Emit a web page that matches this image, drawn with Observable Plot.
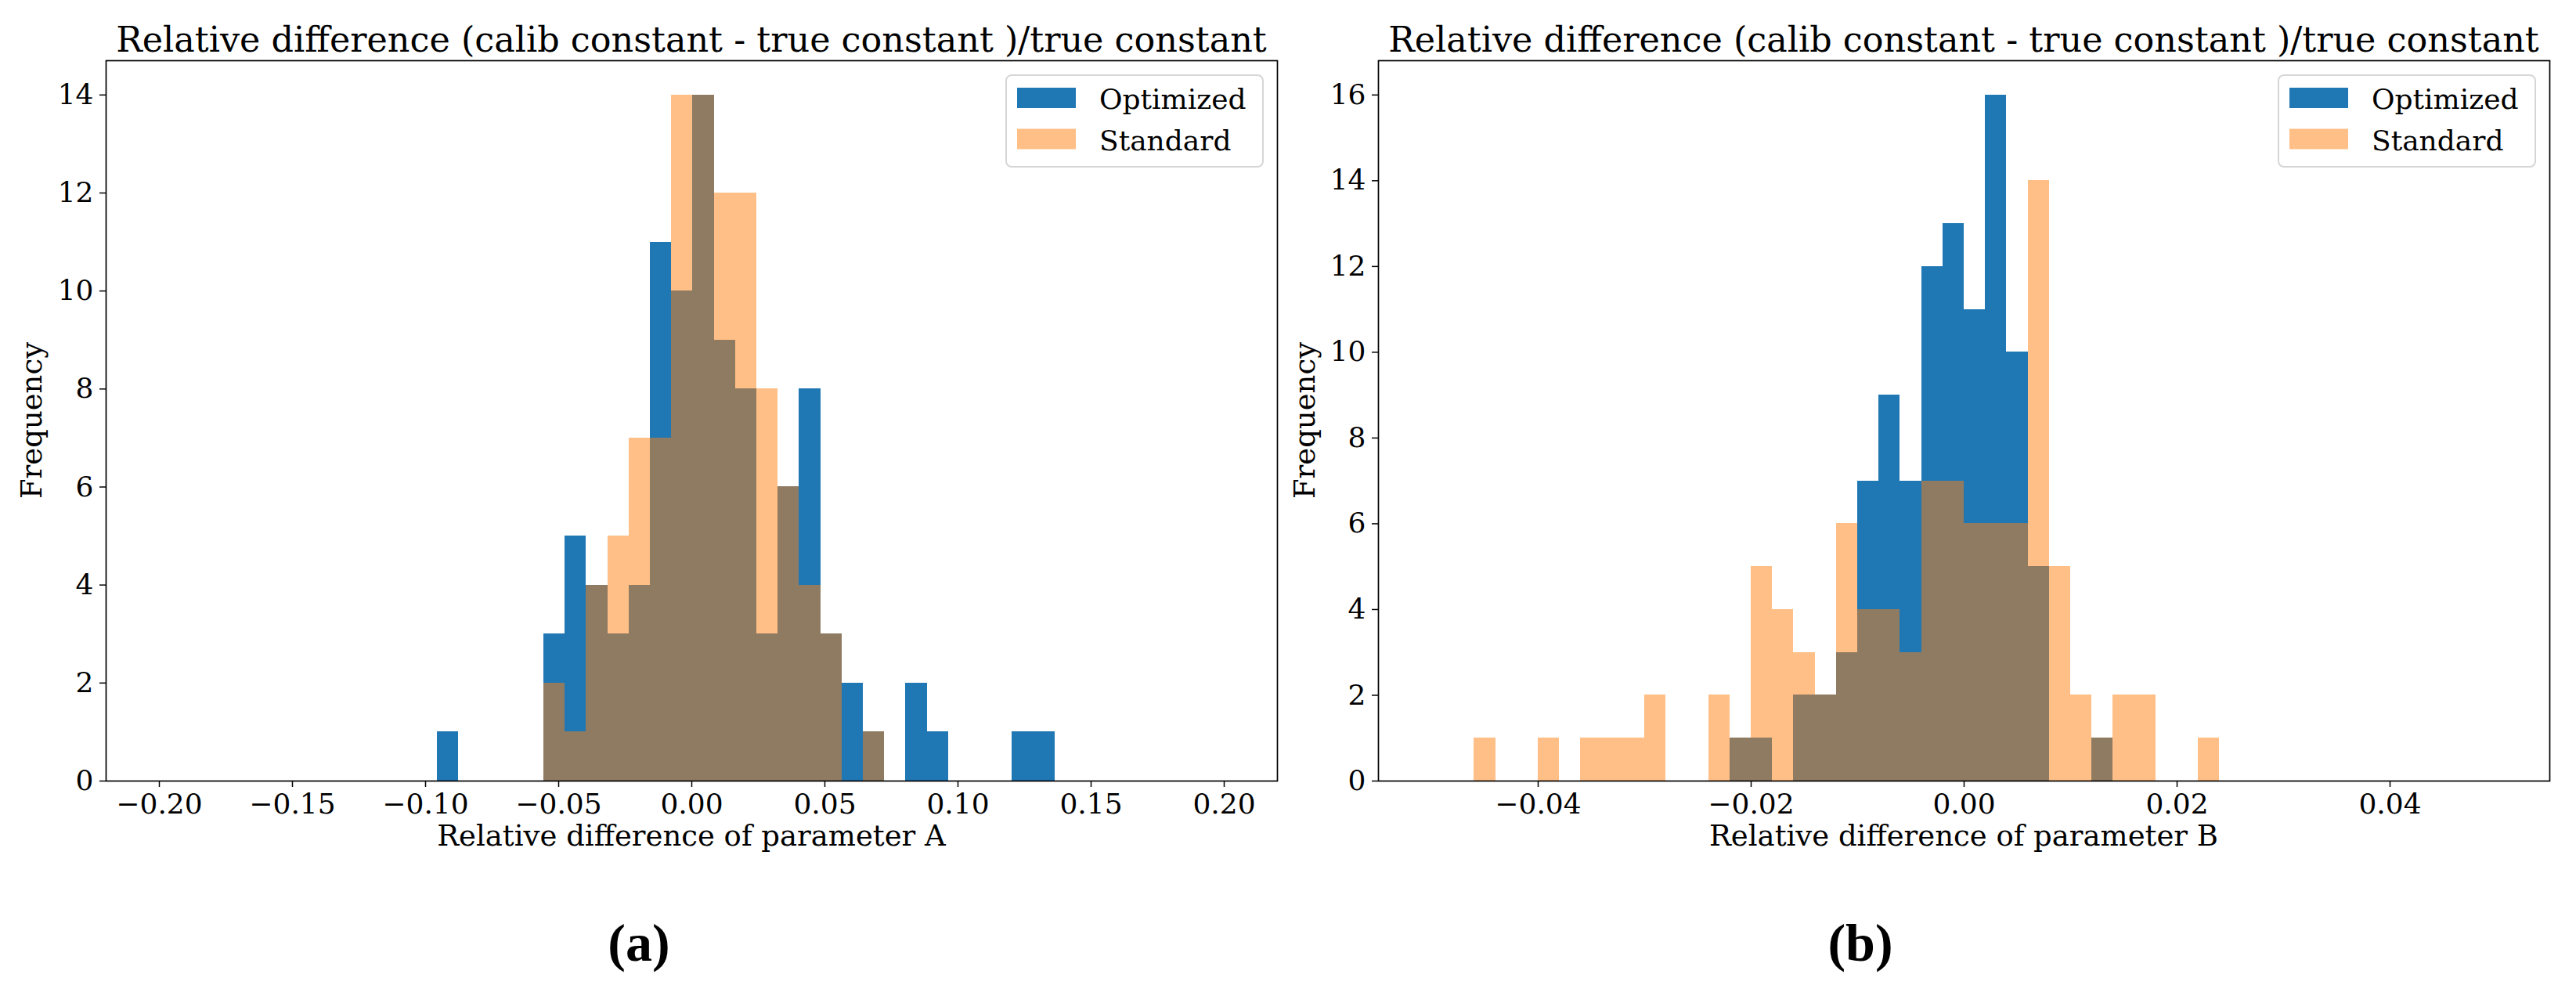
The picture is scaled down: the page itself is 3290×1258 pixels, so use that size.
<!DOCTYPE html>
<html><head><meta charset="utf-8">
<script src="https://cdn.jsdelivr.net/npm/d3@7"></script>
<script src="https://cdn.jsdelivr.net/npm/@observablehq/plot@0.6"></script>
<style>
html,body{margin:0;padding:0;background:#fff;}
#root{position:relative;width:3290px;height:1258px;overflow:hidden;font-family:"DejaVu Serif";}
#root > svg{position:absolute;}
</style></head><body><div id="root"></div>
<script>
// ---------- data ----------
const seriesNames = ["Optimized", "Standard"];
const seriesColors = ["#1f77b4", "#ff7f0e"];
const titleText = "Relative difference (calib constant - true constant )/true constant";
const xLabels = ["Relative difference of parameter A", "Relative difference of parameter B"];
const yLabel = "Frequency";
const panelLabels = ["(a)", "(b)"];

// parameter A: shared bin edges (29 bins)
const edgesA = [-0.0956, -0.0876, -0.0796, -0.0716, -0.0636, -0.0556, -0.0476, -0.0396, -0.0316, -0.0236,
  -0.0156, -0.0076, 0.0004, 0.0084, 0.0164, 0.0244, 0.0324, 0.0404, 0.0484, 0.0564,
  0.0644, 0.0724, 0.0804, 0.0884, 0.0964, 0.1044, 0.1124, 0.1204, 0.1284, 0.1364];
const optimizedA = [1, 0, 0, 0, 0, 3, 5, 4, 3, 4, 11, 10, 14, 9, 8, 3, 6, 8, 3, 2, 1, 0, 2, 1, 0, 0, 0, 1, 1];
const standardA  = [0, 0, 0, 0, 0, 2, 1, 4, 5, 7, 7, 14, 14, 12, 12, 8, 6, 4, 3, 0, 1, 0, 0, 0, 0, 0, 0, 0, 0];

// parameter B: shared bin edges (35 bins)
const edgesB = [-0.046, -0.044, -0.042, -0.040, -0.038, -0.036, -0.034, -0.032, -0.030, -0.028,
  -0.026, -0.024, -0.022, -0.020, -0.018, -0.016, -0.014, -0.012, -0.010, -0.008,
  -0.006, -0.004, -0.002, 0.000, 0.002, 0.004, 0.006, 0.008, 0.010, 0.012,
  0.014, 0.016, 0.018, 0.020, 0.022, 0.024];
const optimizedB = [0, 0, 0, 0, 0, 0, 0, 0, 0, 0, 0, 0, 1, 1, 0, 2, 2, 3, 7, 9, 7, 12, 13, 11, 16, 10, 5, 0, 0, 1, 0, 0, 0, 0, 0];
const standardB  = [1, 0, 0, 1, 0, 1, 1, 1, 2, 0, 0, 2, 1, 5, 4, 3, 2, 6, 4, 4, 3, 7, 7, 6, 6, 6, 14, 5, 2, 1, 2, 2, 0, 0, 1];

const xTicksA = [-0.20, -0.15, -0.10, -0.05, 0.00, 0.05, 0.10, 0.15, 0.20];
const xTicksB = [-0.04, -0.02, 0.00, 0.02, 0.04];
const yTicksA = [0, 2, 4, 6, 8, 10, 12, 14];
const yTicksB = [0, 2, 4, 6, 8, 10, 12, 14, 16];
const xDomainA = [-0.22, 0.22], yDomainA = [0, 14.7];
const xDomainB = [-0.055, 0.055], yDomainB = [0, 16.8];

// ---------- drawing ----------
const root = document.getElementById("root");
const toBins = (edges, counts) => counts.map((c, i) => ({x1: edges[i], x2: edges[i + 1], count: c}));
const FONT = "DejaVu Serif";
const W = 1650, H = 1050, MT = 77, FRAME_BOTTOM = 997;

function panel(o) {
  const svg = Plot.plot({
    width: W, height: H,
    marginLeft: o.ml, marginRight: o.mr, marginTop: MT, marginBottom: H - FRAME_BOTTOM,
    style: {fontFamily: FONT, fontSize: "36px", color: "#000", background: "transparent", overflow: "visible"},
    x: {domain: o.xDomain},
    y: {domain: o.yDomain},
    marks: [
      Plot.rectY(toBins(o.edges, o.opt).filter(d => d.count > 0),
        {x1: "x1", x2: "x2", y: "count", fill: seriesColors[0], shapeRendering: "crispEdges"}),
      Plot.rectY(toBins(o.edges, o.std).filter(d => d.count > 0),
        {x1: "x1", x2: "x2", y: "count", fill: seriesColors[1], fillOpacity: 0.5, shapeRendering: "crispEdges"}),
      Plot.frame({stroke: "#000", strokeWidth: 1.7}),
      Plot.axisX({ticks: o.xTicks, tickFormat: d3.format(".2f"), tickSize: 8, tickPadding: 8, strokeWidth: 1.5, label: null}),
      Plot.axisY({ticks: o.yTicks, tickFormat: d3.format("d"), tickSize: 8, tickPadding: 8, strokeWidth: 1.5, label: null})
    ]
  });
  svg.style.left = o.left + "px";
  svg.style.top = "0px";
  root.append(svg);
}

panel({edges: edgesA, opt: optimizedA, std: standardA, xDomain: xDomainA, yDomain: yDomainA,
  xTicks: xTicksA, yTicks: yTicksA, left: 0, ml: 135, mr: 19});
panel({edges: edgesB, opt: optimizedB, std: standardB, xDomain: xDomainB, yDomain: yDomainB,
  xTicks: xTicksB, yTicks: yTicksB, left: 1640, ml: 120, mr: 34});

// ---------- text overlay: titles, axis labels, legends, sub-captions ----------
const ov = d3.create("svg").attr("width", 3290).attr("height", 1258)
  .style("left", "0px").style("top", "0px").style("font-family", FONT);

const panels = [
  {cx: 883, frameRight: 1631, yLabelX: 53, capX: 816},
  {cx: 2508, frameRight: 3256, yLabelX: 1679, capX: 2376}
];
panels.forEach((p, k) => {
  ov.append("text").attr("x", p.cx).attr("y", 66).attr("text-anchor", "middle")
    .attr("font-size", 44.5).text(titleText);
  ov.append("text").attr("x", p.cx).attr("y", 1080).attr("text-anchor", "middle")
    .attr("font-size", 37).text(xLabels[k]);
  ov.append("text").attr("transform", `translate(${p.yLabelX},537) rotate(-90)`).attr("text-anchor", "middle")
    .attr("font-size", 37).text(yLabel);
  ov.append("text").attr("x", p.capX).attr("y", 1227).attr("text-anchor", "middle")
    .attr("font-family", "Liberation Serif").attr("font-weight", "bold").attr("font-size", 68).text(panelLabels[k]);
  // legend
  const lx = p.frameRight - 18 - 328, ly = 96;
  const g = ov.append("g");
  g.append("rect").attr("x", lx).attr("y", ly).attr("width", 328).attr("height", 117).attr("rx", 7)
    .attr("fill", "#fff").attr("fill-opacity", 0.8).attr("stroke", "#d6d6d6").attr("stroke-width", 2);
  seriesNames.forEach((name, i) => {
    g.append("rect").attr("x", lx + 14).attr("y", ly + 16 + i * 52.5).attr("width", 75).attr("height", 26)
      .attr("fill", seriesColors[i]).attr("fill-opacity", i === 1 ? 0.5 : 1);
    g.append("text").attr("x", lx + 119).attr("y", ly + 43 + i * 52.5).attr("font-size", 36).text(name);
  });
});
root.append(ov.node());
</script></body></html>
